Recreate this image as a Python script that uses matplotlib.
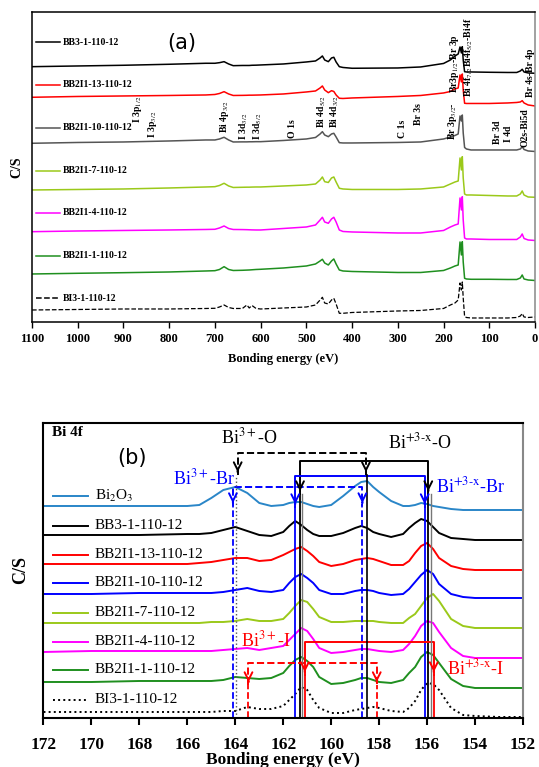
import matplotlib
matplotlib.use("Agg")
import matplotlib.pyplot as plt
from matplotlib.transforms import blended_transform_factory

plt.rcParams['font.family'] = ['Liberation Serif', 'DejaVu Serif']
plt.rcParams['mathtext.fontset'] = 'stix'

# ---------------- (a) survey spectra ----------------
survey_energy = [1100, 1000, 900, 800, 720, 700, 690, 680, 670, 660, 640, 630, 625, 619, 610,
                 600, 550, 500, 480, 470, 465, 460, 452, 445, 440, 435, 428, 420, 400, 300,
                 250, 200, 185, 175, 168, 164, 161, 159, 157, 154, 150, 140, 100, 60, 40,
                 32, 28, 24, 15, 0]
survey_bb3 = [255.3, 256, 256.7, 257.7, 258.7, 258.7, 259.3, 260.3, 258, 256.3, 256.5, 256.5, 256.5, 256.7, 256.8,
              257, 258, 260, 261, 264, 266, 262, 260.3, 264, 264.7, 260, 255.3, 254.5, 253.7, 254,
              255, 258.5, 262, 266, 268, 275, 269, 275.3, 262, 250.3, 250, 250, 249.7, 249.5, 249.5,
              251, 252.7, 250, 249, 248.7]
survey_bb2i1_13 = [224.7, 225.5, 226, 226.5, 227, 227.5, 228.5, 230.3, 228, 226.5, 226.6, 226.7, 226.8, 226.8, 226.9,
                   227, 228, 230, 231, 234, 236, 232, 229.3, 231.3, 230.5, 227, 223.7, 223.5, 224, 225.5,
                   226.5, 229, 230.5, 233, 234, 247, 240, 248, 232, 218.7, 218.5, 218.5, 218.5, 219, 219.5,
                   220, 221.3, 219, 217, 216]
survey_bb2i1_10 = [178.7, 179.5, 180, 181, 182, 182, 183, 184.7, 182, 180, 180.1, 180.1, 180.2, 180.2, 180.3,
                   180.3, 181.5, 183, 184.5, 188, 190.3, 187, 185.3, 188, 188.7, 185, 179.3, 179, 179, 179.5,
                   180, 183, 185, 186.5, 188, 206, 201, 207, 189, 174.5, 173, 172, 172, 172, 172,
                   173, 175.3, 172.5, 171, 170.5]
survey_bb2i1_7 = [132, 132.5, 133, 134, 135, 135.3, 136.5, 138.7, 136, 134.5, 134.7, 134.8, 134.8, 134.9, 135,
                  135, 136, 137, 138, 142, 145, 140.3, 139.5, 144, 145, 140, 133.7, 133, 132.5, 132.5,
                  133, 135, 138, 140, 141, 164, 152, 165.3, 144, 128, 127, 127, 126.5, 126, 126,
                  128, 131, 127, 125, 124.7]
survey_bb2i1_4 = [90.3, 91, 91.5, 92, 92.5, 92.7, 94, 96, 93.5, 92.5, 92.4, 92.3, 92.2, 92.1, 92,
                  92, 93.5, 95, 97, 102, 104.7, 100, 98.7, 103, 104.7, 100, 92, 90.5, 90, 89,
                  89, 91.5, 95, 97, 98, 124, 112, 125.3, 102, 84, 83, 83, 82.5, 82.5, 82.5,
                  85, 88, 83.5, 82, 81.5]
survey_bb2i1_1 = [48, 48.7, 49.3, 50, 51, 51.3, 52.5, 55.3, 52.5, 51.5, 51.7, 51.9, 52, 52.2, 52.5,
                  52.7, 54, 56, 58, 61, 62.7, 59, 57, 61, 63, 58, 52, 51, 50.5, 49.5,
                  49.5, 51.5, 54, 56, 57, 80, 67, 80.3, 60, 43.7, 43, 42.7, 42.7, 42.5, 42.5,
                  44, 47, 43, 42, 41.5]
survey_bi3_1 = [12, 12.5, 13, 13, 13.5, 13.7, 15, 17, 14.5, 13.5, 13.5, 17, 14, 16.5, 13.5,
                13, 14, 15, 17, 22, 24.7, 19, 18, 22, 23.7, 18, 8.7, 8.7, 9.5, 11,
                11.5, 13.5, 17, 19, 22, 39, 32, 40, 24, 5.5, 4.5, 4, 4, 4, 4.5,
                6, 8.5, 5, 4.5, 5]

survey_names = ['BB3-1-110-12', 'BB2I1-13-110-12', 'BB2I1-10-110-12', 'BB2I1-7-110-12',
                'BB2I1-4-110-12', 'BB2I1-1-110-12', 'BI3-1-110-12']
survey_series = [survey_bb3, survey_bb2i1_13, survey_bb2i1_10, survey_bb2i1_7,
                 survey_bb2i1_4, survey_bb2i1_1, survey_bi3_1]
survey_colors = ['black', '#ff0000', '#555555', '#9bc91a', '#ff00ff', '#1f8f1f', 'black']
survey_styles = ['-', '-', '-', '-', '-', '-', '--']
survey_legend_y = [279.7, 237, 194.3, 151.3, 109.3, 66, 23.7]

# peak labels: (text, energy, bottom of text)
survey_peaks = [
    ('I 3p$_{1/2}$', 870, 199), ('I 3p$_{3/2}$', 837, 184), ('Bi 4p$_{3/2}$', 678, 189),
    ('I 3d$_{3/2}$', 636, 182), ('I 3d$_{5/2}$', 606, 182), ('O 1s', 531, 184),
    ('Bi 4d$_{5/2}$', 466, 194), ('Bi 4d$_{3/2}$', 437, 194), ('C 1s', 289, 184),
    ('Br 3s', 254, 197), ('Br 3p$_{3/2}$-', 180, 182), ('Br3p$_{1/2}$-Br 3p', 176, 229),
    ('Bi 4f$_{7/2}$', 144, 225), ('Bi4f$_{5/2}$-Bi4f', 144, 255), ('Br 3d', 81, 178),
    ('I 4d', 59, 180), ('O2s-Bi5d', 22, 175), ('Br 4s-Br 4p', 9, 225),
]

# ---------------- (b) Bi 4f high resolution ----------------
bi4f_energy = [172, 170, 168, 166, 165.5, 165, 164.5, 164, 163.5, 163, 162.5, 162, 161.75, 161.5,
               161.25, 161, 160.75, 160.5, 160, 159.5, 159, 158.75, 158.5, 158.25, 158, 157.5,
               157, 156.75, 156.5, 156.25, 156, 155.75, 155.5, 155, 154.5, 154, 153, 152]
bi4f_bi2o3 = [212, 212, 212, 212, 213, 220, 228, 231, 225, 215, 212, 213, 215, 216, 216, 214, 212, 211, 213,
              222, 232, 236, 237, 231, 226, 217, 212, 212, 213, 215, 214, 212, 211, 209, 208, 208, 208, 208]
bi4f_bb3 = [183, 183, 183, 184, 184, 185, 188, 191, 187, 183, 182, 186, 192, 197, 193, 188, 184, 182, 182,
            185, 190, 192, 190, 186, 184, 181, 184, 190, 195, 199, 197, 191, 185, 180, 179, 178, 178, 178]
bi4f_bb2i1_13 = [154, 154, 154, 154, 155, 156, 158, 160, 160, 157, 158, 163, 166, 169, 171, 167, 162, 156, 152,
                 154, 158, 159, 160, 159, 157, 153, 153, 157, 165, 172, 175, 169, 160, 152, 149, 148, 148, 148]
bi4f_bb2i1_10 = [124, 124, 125, 125, 125, 125, 126, 128, 130, 127, 126, 128, 135, 141, 144, 140, 135, 128, 124,
                 124, 127, 128, 128, 127, 125, 123, 124, 129, 136, 143, 148, 144, 134, 124, 121, 120, 120, 120]
bi4f_bb2i1_7 = [95, 95, 95, 95, 95, 96, 96, 97, 99, 97, 97, 99, 105, 112, 118, 116, 109, 101, 96,
                96, 97, 97, 97, 97, 96, 95, 95, 100, 104, 112, 120, 124, 117, 99, 92, 90, 90, 90]
bi4f_bb2i1_4 = [66, 67, 67, 67, 67, 67, 68, 69, 70, 68, 70, 72, 78, 84, 90, 87, 79, 70, 65,
                66, 68, 69, 69, 68, 67, 66, 68, 74, 82, 92, 97, 95, 86, 70, 62, 60, 60, 60]
bi4f_bb2i1_1 = [36, 36, 37, 37, 37, 37, 38, 41, 40, 39, 40, 45, 52, 58, 61, 57, 51, 41, 34,
                35, 38, 40, 40, 38, 36, 35, 38, 45, 51, 61, 66, 63, 55, 39, 32, 30, 30, 30]
bi4f_bi3_1 = [6, 6, 6, 6, 6, 6, 7, 7, 11, 9, 9, 12, 18, 24, 31, 28, 18, 10, 5,
              5, 8, 9, 10, 11, 10, 7, 6, 10, 17, 28, 35, 34, 28, 10, 3, 2, 1, 1]

bi4f_names = ['Bi$_2$O$_3$', 'BB3-1-110-12', 'BB2I1-13-110-12', 'BB2I1-10-110-12', 'BB2I1-7-110-12',
              'BB2I1-4-110-12', 'BB2I1-1-110-12', 'BI3-1-110-12']
bi4f_series = [bi4f_bi2o3, bi4f_bb3, bi4f_bb2i1_13, bi4f_bb2i1_10, bi4f_bb2i1_7,
               bi4f_bb2i1_4, bi4f_bb2i1_1, bi4f_bi3_1]
bi4f_colors = ['#2a86c8', 'black', '#ff0000', '#0000ff', '#9bc91a', '#ff00ff', '#1f8f1f', 'black']
bi4f_styles = ['-', '-', '-', '-', '-', '-', '-', ':']
bi4f_legend_y = [222, 192, 163, 135, 105, 76, 48, 18]

# doublet brackets: (left E, right E, bar height, arrow tip, colour, linestyle)
brackets = [
    (163.9, 158.55, 264.7, 243, 'black', '--'),   # Bi3+-O
    (161.3, 155.95, 257.3, 224, 'black', '-'),    # Bi+3-x-O
    (161.5, 156.1, 242, 211, '#0000ff', '-'),     # Bi+3-x-Br
    (164.1, 158.7, 231.3, 212, '#0000ff', '--'),  # Bi3+-Br
    (161.1, 155.72, 75.7, 43, '#ff0000', '-'),    # Bi+3-x-I
    (163.45, 158.1, 55.3, 33, '#ff0000', '--'),   # Bi3+-I
]
bracket_texts = [
    ('Bi$^{3+}$-O', 163.4, 281, 'black'), ('Bi$^{\\mathrm{+3\\text{-}x}}$-O', 156.3, 276, 'black'),
    ('Bi$^{3+}$-Br', 165.3, 240, '#0000ff'), ('Bi$^{\\mathrm{+3\\text{-}x}}$-Br', 154.2, 232, '#0000ff'),
    ('Bi$^{3+}$-I', 162.7, 78, '#ff0000'), ('Bi$^{\\mathrm{+3\\text{-}x}}$-I', 154.0, 50, '#ff0000'),
]

fig = plt.figure(figsize=(5.39, 7.67), dpi=100)

# ---- panel (a)
ax1 = fig.add_axes([0.0594, 0.5802, 0.9332, 0.4042])
for y, c, ls in zip(survey_series, survey_colors, survey_styles):
    ax1.plot(survey_energy, y, color=c, ls=ls, lw=1.1 if ls == '-' else 0.9)
ax1.set_xlim(1100, 0)
ax1.set_ylim(0, 310)
ax1.set_yticks([])
ax1.set_xticks(range(1100, -1, -100))
ax1.tick_params(axis='x', direction='out', length=4, width=1, pad=4, labelsize=9)
for lab in ax1.get_xticklabels():
    lab.set_fontweight('bold')
for sp in ax1.spines.values():
    sp.set_linewidth(1.1)
ax1.spines['right'].set_color('#888888')
ax1.set_xlabel('Bonding energy (eV)', fontsize=9, fontweight='bold', labelpad=6)
ax1.set_ylabel('C/S', fontsize=10, fontweight='bold', labelpad=6)

tr1 = blended_transform_factory(ax1.transAxes, ax1.transData)
for yy, name, c, ls in zip(survey_legend_y, survey_names, survey_colors, survey_styles):
    ax1.plot([0.008, 0.056], [yy, yy], color=c, ls=ls, lw=1.1, transform=tr1)
    ax1.text(0.062, yy, name, transform=tr1, fontsize=7, fontweight='bold', va='center', ha='left')

for txt, e, yb in survey_peaks:
    ax1.text(e, yb, txt, rotation=90, ha='center', va='bottom', fontsize=7, fontweight='bold')

fig.text(182 / 539, 1 - 43 / 767, '(a)', fontsize=15, family='DejaVu Sans', ha='center', va='center')

# ---- panel (b)
ax2 = fig.add_axes([0.0807, 0.0639, 0.8896, 0.3846])
for y, c, ls in zip(bi4f_series, bi4f_colors, bi4f_styles):
    ax2.plot(bi4f_energy, y, color=c, ls=ls, lw=1.4)
ax2.set_xlim(172, 152)
ax2.set_ylim(0, 295)
ax2.set_yticks([])
ax2.set_xticks(range(172, 151, -2))
ax2.tick_params(axis='x', direction='out', length=5, width=1.5, pad=9, labelsize=12.5)
for lab in ax2.get_xticklabels():
    lab.set_fontweight('bold')
for sp in ax2.spines.values():
    sp.set_linewidth(1.5)
ax2.spines['right'].set_color('#888888')
ax2.set_xlabel('Bonding energy (eV)', fontsize=12.5, fontweight='bold', labelpad=-1)
ax2.set_ylabel('C/S', fontsize=13, fontweight='bold', labelpad=10)

for x0, x1, ybar, ytip, c, ls in brackets:
    ax2.plot([x0, x0, x1, x1], [ytip, ybar, ybar, ytip], color=c, ls=ls, lw=1.4)
    for x in (x0, x1):
        ax2.annotate('', xy=(x, ytip), xytext=(x, ytip + 6),
                     arrowprops=dict(arrowstyle='->', color=c, lw=1.4, mutation_scale=14))
        if c == 'black' and ls == '--':
            continue
        ax2.plot([x, x], [0, ytip], color=c, ls=ls, lw=1.3)
# thin reference lines below the oxide arrows
ax2.plot([163.95, 163.95], [0, 243], color='#555555', ls=':', lw=1.0)
ax2.plot([158.5, 158.5], [0, 243], color='black', lw=1.2)
ax2.plot([161.2, 161.2], [0, 224], color='#777777', lw=1.0)
ax2.plot([155.85, 155.85], [0, 224], color='#777777', lw=1.0)

for txt, e, yy, c in bracket_texts:
    ax2.text(e, yy, txt, color=c, fontsize=13, ha='center', va='center')

tr2 = blended_transform_factory(ax2.transAxes, ax2.transData)
for yy, name, c, ls in zip(bi4f_legend_y, bi4f_names, bi4f_colors, bi4f_styles):
    ax2.plot([0.02, 0.093], [yy, yy], color=c, ls=ls, lw=1.4, transform=tr2)
    ax2.text(0.107, yy, name, transform=tr2, fontsize=11, va='center', ha='left')

ax2.text(0.018, 286, 'Bi 4f', transform=tr2, fontsize=11, fontweight='bold', va='center', ha='left')
fig.text(132 / 539, 1 - 458 / 767, '(b)', fontsize=15, family='DejaVu Sans', ha='center', va='center')

fig.savefig('out.png', dpi=100)
